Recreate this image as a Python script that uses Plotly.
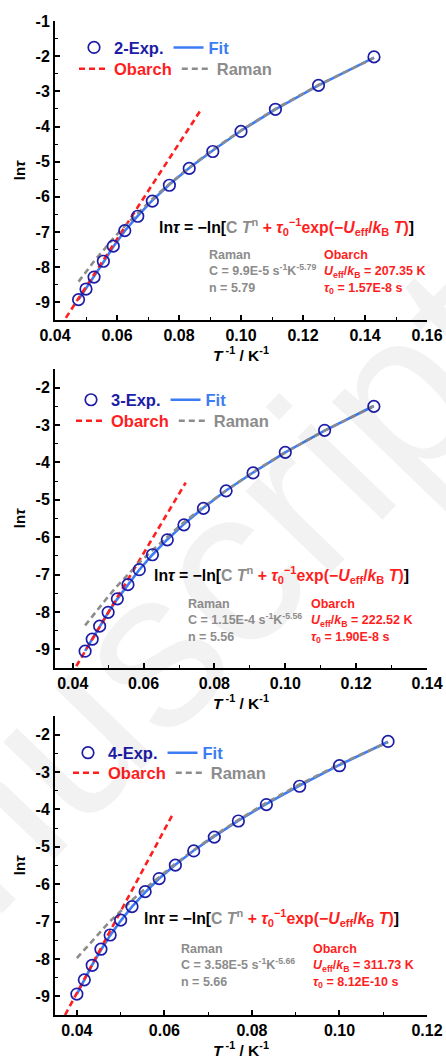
import plotly.graph_objects as go

# ---------------- data ----------------
# panel 1 : compound 2  (T = 21 ... 7 K)
p1_x = [0.0476, 0.0500, 0.0526, 0.0556, 0.0588, 0.0625, 0.0667, 0.0714, 0.0769,
        0.0833, 0.0909, 0.1000, 0.1111, 0.1250, 0.1429]
p1_exp = [-8.92, -8.62, -8.28, -7.83, -7.40, -6.96, -6.55, -6.12, -5.67,
          -5.19, -4.71, -4.14, -3.51, -2.83, -2.02]
p1_fit = [-8.92, -8.61, -8.27, -7.86, -7.42, -6.97, -6.54, -6.10, -5.65,
          -5.18, -4.68, -4.12, -3.51, -2.83, -2.04]
p1_raman = [-8.41, -8.13, -7.83, -7.52, -7.18, -6.83, -6.46, -6.06, -5.63,
            -5.17, -4.66, -4.11, -3.50, -2.82, -2.05]
p1_orb_x = [0.0435, 0.0871]
p1_orb_y = [-9.44, -3.52]

# panel 2 : compound 3  (T = 23 ... 8 K)
p2_x = [0.0435, 0.0455, 0.0476, 0.0500, 0.0526, 0.0556, 0.0588, 0.0625, 0.0667,
        0.0714, 0.0769, 0.0833, 0.0909, 0.1000, 0.1111, 0.1250]
p2_exp = [-9.05, -8.73, -8.38, -8.01, -7.65, -7.27, -6.87, -6.47, -6.07,
          -5.67, -5.23, -4.76, -4.28, -3.73, -3.14, -2.50]
p2_fit = [-9.04, -8.72, -8.38, -8.02, -7.65, -7.26, -6.87, -6.47, -6.06,
          -5.65, -5.21, -4.75, -4.27, -3.73, -3.15, -2.49]
p2_raman = [-8.36, -8.12, -7.86, -7.59, -7.30, -7.00, -6.68, -6.35, -5.99,
            -5.60, -5.19, -4.75, -4.26, -3.73, -3.15, -2.49]
p2_orb_x = [0.0410, 0.0719]
p2_orb_y = [-9.45, -4.54]

# panel 3 : compound 4  (T = 25 ... 9 K)
p3_x = [0.0400, 0.0417, 0.0435, 0.0455, 0.0476, 0.0500, 0.0526, 0.0556, 0.0588,
        0.0625, 0.0667, 0.0714, 0.0769, 0.0833, 0.0909, 0.1000, 0.1111]
p3_exp = [-8.94, -8.56, -8.17, -7.74, -7.36, -6.96, -6.60, -6.20, -5.85,
          -5.49, -5.11, -4.74, -4.31, -3.87, -3.38, -2.83, -2.18]
p3_fit = [-8.94, -8.55, -8.16, -7.76, -7.37, -6.98, -6.60, -6.22, -5.85,
          -5.48, -5.10, -4.72, -4.30, -3.85, -3.36, -2.81, -2.19]
p3_raman = [-7.98, -7.75, -7.51, -7.26, -6.99, -6.72, -6.43, -6.12, -5.80,
            -5.45, -5.09, -4.70, -4.28, -3.82, -3.33, -2.79, -2.20]
p3_orb_x = [0.0373, 0.0619]
p3_orb_y = [-9.50, -4.13]

sample_names = ["2-Exp.", "3-Exp.", "4-Exp."]
raman_C = ["9.9E-5", "1.15E-4", "3.58E-5"]
raman_n = ["5.79", "5.56", "5.66"]
orbach_U = ["207.35", "222.52", "311.73"]
orbach_tau = ["1.57E-8", "1.90E-8", "8.12E-10"]

x_ranges = [[0.04, 0.16], [0.035, 0.14], [0.035, 0.12]]
y_ranges = [[-9.5, -1.0], [-9.5, -1.5], [-9.5, -1.5]]
x_tickvals = [[0.04, 0.06, 0.08, 0.10, 0.12, 0.14, 0.16],
              [0.04, 0.06, 0.08, 0.10, 0.12, 0.14],
              [0.04, 0.06, 0.08, 0.10, 0.12]]
y_tickvals = [[-9, -8, -7, -6, -5, -4, -3, -2, -1],
              [-9, -8, -7, -6, -5, -4, -3, -2],
              [-9, -8, -7, -6, -5, -4, -3, -2]]
y_ticktext = [["-9", "-8", "-7", "-6", "-5", "-4", "-3", "-2", "-1"],
              ["-9", "-8", "-7", "-6", "-5", "-4", "-3", "-2"],
              ["-9", "-8", "-7", "-6", "-5", "-4", "-3", "-2"]]

# ---------------- style ----------------
W, H = 446, 1059
ML, MR, MT, MB = 55, 19, 21, 44
FONT = "Arial, Liberation Sans, sans-serif"
NAVY = "#1c1ca6"
BLUE = "#3c7cf4"
RED = "#ff1e1e"
GRAY = "#8c8c8c"


def fx(px):
    return (px - ML) / (W - ML - MR)


def fy(py):
    return (H - MB - py) / (H - MT - MB)


# pixel extents of each plot area (top, bottom)
panel_px = [(21, 320), (369, 668), (716, 1015)]
legend_px = [(74, 47.7, 69.0), (71, 400.0, 421.0), (68, 753.0, 773.0)]
eq_px = [(157, 227), (152, 575), (142, 918)]
par_px = [(207, 322, 246), (186, 309, 595), (179, 311, 940)]

panels = [
    (p1_x, p1_exp, p1_fit, p1_raman, p1_orb_x, p1_orb_y),
    (p2_x, p2_exp, p2_fit, p2_raman, p2_orb_x, p2_orb_y),
    (p3_x, p3_exp, p3_fit, p3_raman, p3_orb_x, p3_orb_y),
]

fig = go.Figure()
annotations = []
layout = {}

# faint watermark of the source page
annotations.append(dict(xref="paper", yref="paper", x=fx(100), y=fy(700), showarrow=False,
                        xanchor="center", yanchor="middle",
                        text="Manuscript", textangle=-46,
                        font=dict(family=FONT, size=224, color="rgba(0,0,0,0.05)")))

for i, (xs, ye, yf, yr, ox, oy) in enumerate(panels):
    sfx = "" if i == 0 else str(i + 1)
    xa, ya = "x" + sfx, "y" + sfx
    lg1 = "legend" if i == 0 else "legend" + str(2 * i + 1)
    lg2 = "legend" + str(2 * i + 2)

    fig.add_trace(go.Scatter(x=xs, y=yf, mode="lines", xaxis=xa, yaxis=ya,
                             line=dict(color=BLUE, width=2.6),
                             name="<span style='color:%s'>Fit</span>" % BLUE,
                             legend=lg1, legendrank=2))
    fig.add_trace(go.Scatter(x=ox, y=oy, mode="lines", xaxis=xa, yaxis=ya,
                             line=dict(color=RED, width=2.6, dash="6px,4px"),
                             name="<span style='color:%s'>Obarch</span>" % RED,
                             legend=lg2, legendrank=1))
    fig.add_trace(go.Scatter(x=xs, y=yr, mode="lines", xaxis=xa, yaxis=ya,
                             line=dict(color=GRAY, width=2.6, dash="6px,4px"),
                             name="<span style='color:%s'>Raman</span>" % GRAY,
                             legend=lg2, legendrank=2))
    fig.add_trace(go.Scatter(x=xs, y=ye, mode="markers", xaxis=xa, yaxis=ya,
                             marker=dict(symbol="circle-open", size=11.5,
                                         color=NAVY, line=dict(width=1.7, color=NAVY)),
                             name="<span style='color:%s'>%s</span>" % (NAVY, sample_names[i]),
                             legend=lg1, legendrank=1))

    top, bot = panel_px[i]
    layout["xaxis" + sfx] = dict(
        domain=[0, 1], anchor=ya, range=x_ranges[i],
        tickmode="array", tickvals=x_tickvals[i], tickformat=".2f",
        showline=True, linecolor="black", linewidth=2,
        ticks="inside", ticklen=5, tickwidth=1.6, tickcolor="black",
        minor=dict(ticks="inside", ticklen=3, tickwidth=1.4, tickcolor="black",
                   tickmode="linear", tick0=0.03, dtick=0.02),
        showgrid=False, zeroline=False,
        tickfont=dict(family=FONT, size=16, color="black", weight="bold"),
        title=dict(text="<i>T</i><sup> -1</sup> / K<sup>-1</sup>", standoff=3,
                   font=dict(family=FONT, size=15.5, color="black", weight="bold")),
    )
    layout["yaxis" + sfx] = dict(
        domain=[fy(bot), fy(top)], anchor=xa, range=y_ranges[i],
        tickmode="array", tickvals=y_tickvals[i], ticktext=y_ticktext[i],
        showline=True, linecolor="black", linewidth=2,
        ticks="inside", ticklen=5, tickwidth=1.6, tickcolor="black",
        minor=dict(ticks="inside", ticklen=3, tickwidth=1.4, tickcolor="black",
                   tickmode="linear", tick0=-9.5, dtick=1),
        showgrid=False, zeroline=False,
        tickfont=dict(family=FONT, size=16, color="black", weight="bold"),
        title=dict(text="ln<i>τ</i>", standoff=6,
                   font=dict(family=FONT, size=15, color="black", weight="bold")),
    )

    lx, r1, r2 = legend_px[i]
    for lg, ry in ((lg1, r1), (lg2, r2)):
        layout[lg] = dict(orientation="h", x=fx(lx), y=fy(ry), xanchor="left",
                          yanchor="middle", bgcolor="rgba(0,0,0,0)", borderwidth=0,
                          tracegroupgap=0, itemwidth=30,
                          font=dict(family=FONT, size=16.5, weight="bold"))

    ex, ey = eq_px[i]
    eq = ("ln<i>τ</i> = −ln[<span style='color:%s'>C <i>T</i><sup>n</sup></span>"
          "<span style='color:%s'> + <i>τ</i><sub>0</sub><sup>−1</sup>exp(−<i>U</i><sub>eff</sub>"
          "/<i>k</i><sub>B</sub> <i>T</i>)</span>]") % (GRAY, RED)
    annotations.append(dict(xref="paper", yref="paper", x=fx(ex), y=fy(ey),
                            xanchor="left", yanchor="middle", showarrow=False, text=eq,
                            font=dict(family=FONT, size=15.8, color="black", weight="bold")))
    rx, obx, py = par_px[i]
    annotations.append(dict(xref="paper", yref="paper", x=fx(rx), y=fy(py),
                            xanchor="left", yanchor="top", showarrow=False, align="left",
                            text="Raman<br>C = %s s<sup>-1</sup>K<sup>-%s</sup><br>n = %s"
                                 % (raman_C[i], raman_n[i], raman_n[i]),
                            font=dict(family=FONT, size=12.5, color=GRAY, weight="bold")))
    annotations.append(dict(xref="paper", yref="paper", x=fx(obx), y=fy(py),
                            xanchor="left", yanchor="top", showarrow=False, align="left",
                            text="Obarch<br><i>U</i><sub>eff</sub>/<i>k</i><sub>B</sub> = %s K"
                                 "<br><i>τ</i><sub>0</sub> = %s s" % (orbach_U[i], orbach_tau[i]),
                            font=dict(family=FONT, size=12.5, color=RED, weight="bold")))

fig.update_layout(
    width=W, height=H, margin=dict(l=ML, r=MR, t=MT, b=MB, autoexpand=False),
    paper_bgcolor="white", plot_bgcolor="white",
    font=dict(family=FONT, color="black"),
    annotations=annotations,
    **layout,
)

fig.write_html(
    "out.html",
    config={"displayModeBar": False},
    post_script="document.body.style.margin='0';document.body.style.overflow='hidden';"
                "document.documentElement.style.overflow='hidden';",
)
